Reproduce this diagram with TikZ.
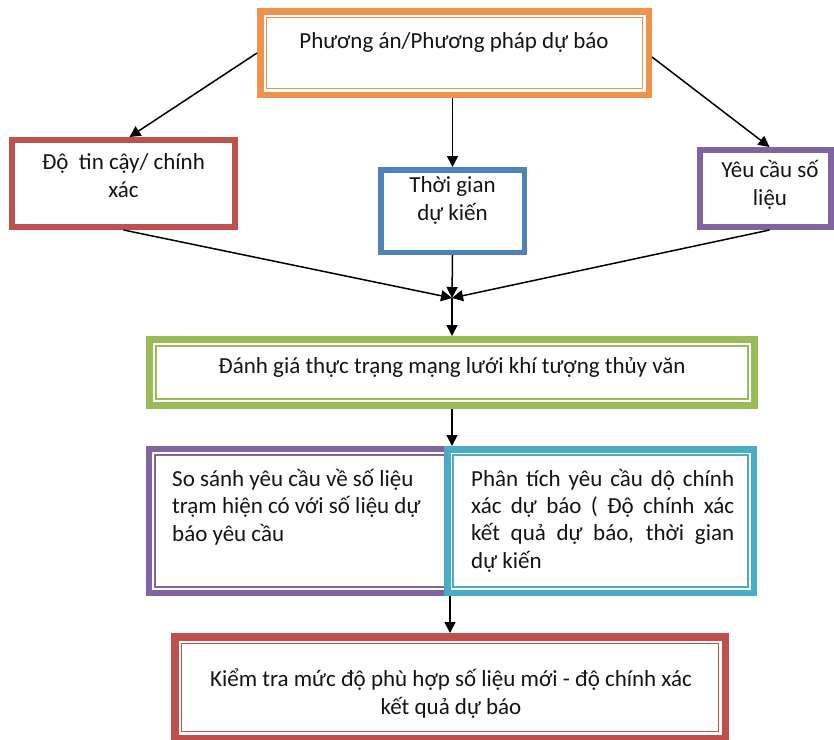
\documentclass[tikz,border=0pt]{standalone}
\usepackage{fontspec}
\setmainfont{Carlito}
\usetikzlibrary{arrows.meta}
\definecolor{cOrange}{HTML}{F0924C}
\definecolor{cRed}{HTML}{C0504D}
\definecolor{cBlue}{HTML}{4F81BD}
\definecolor{cPurple}{HTML}{8064A2}
\definecolor{cGreen}{HTML}{9BBB59}
\definecolor{cTeal}{HTML}{4BACC6}
\begin{document}
\begin{tikzpicture}[x=1pt,y=-1pt,
  box/.style={draw, fill=white, inner sep=0pt, line join=miter},
  inner/.style={line width=1.7pt},
  txt/.style={font=\fontsize{23}{27.3}\selectfont, inner sep=0pt, text=black!92},
  arr/.style={line width=1.5pt, -{Triangle[length=11pt,width=11pt]}},
  ]
\useasboundingbox (0,0) rectangle (834,739);

% boxes
\node[box, draw=cOrange, line width=6.5pt, minimum width=388.5pt, minimum height=83.5pt] (top) at (454.5,53) {};
\draw[inner, cOrange] ([shift={(9.5,9.5)}]top.north west) rectangle ([shift={(-9.5,-9.5)}]top.south east);

\node[box, draw=cRed, line width=6pt, minimum width=223pt, minimum height=87pt] (red) at (123.5,183.5) {};
\node[box, draw=cBlue, line width=5.5pt, minimum width=143.5pt, minimum height=82.5pt] (blue) at (452.5,211) {};
\node[box, draw=cPurple, line width=6pt, minimum width=131pt, minimum height=77pt] (pone) at (765.5,188.5) {};

\node[box, draw=cGreen, line width=7pt, minimum width=605pt, minimum height=66pt] (green) at (452,372.5) {};
\draw[inner, cGreen] ([shift={(9.8,9.8)}]green.north west) rectangle ([shift={(-9.8,-9.8)}]green.south east);

\node[box, draw=cPurple, line width=6pt, minimum width=318pt, minimum height=144pt] (ptwo) at (308,521) {};
\draw[inner, cPurple] ([shift={(9,9)}]ptwo.north west) rectangle ([shift={(-9,-9)}]ptwo.south east);

\node[box, draw=cTeal, line width=6.5pt, minimum width=306.5pt, minimum height=143.5pt] (teal) at (600.5,521) {};
\draw[inner, cTeal] ([shift={(9.3,9.3)}]teal.north west) rectangle ([shift={(-9.3,-9.3)}]teal.south east);

\node[box, draw=cRed, line width=7.5pt, minimum width=550.5pt, minimum height=101.5pt] (bot) at (450,687.5) {};
\draw[inner, cRed] ([shift={(10.5,10.5)}]bot.north west) rectangle ([shift={(-10.5,-10.5)}]bot.south east);

% texts (base anchor = baseline of the last line)
\node[txt, anchor=base] (ttop) at (454,48) {Phương án/Phương pháp dự báo};
\node[txt, anchor=base, align=center] (tred) at (123.5,197) {Độ\ \ tin cậy/ chính\\xác};
\node[txt, anchor=base, align=center] (tblue) at (452.5,220) {Thời gian\\dự kiến};
\node[txt, anchor=base, align=center] (tpone) at (770,205) {Yêu cầu số\\liệu};
\node[txt, anchor=base] (tgreen) at (452,373) {Đánh giá thực trạng mạng lưới khí tượng thủy văn};
\node[txt, anchor=base west, align=left] (tptwo) at (172,541) {So sánh yêu cầu về số liệu\\trạm hiện có với số liệu dự\\báo yêu cầu};
\node[txt, anchor=base west, align=left] (tteal) at (471,568) {\makebox[263pt][s]{Phân tích yêu cầu dộ chính}\\\makebox[263pt][s]{xác dự báo ( Độ chính xác}\\\makebox[263pt][s]{kết quả dự báo, thời gian}\\dự kiến};
\node[txt, anchor=base, align=center] (tbot) at (451,714) {Kiểm tra mức độ phù hợp số liệu mới - độ chính xác\\kết quả dự báo};

% connectors
\coordinate (J) at (452,298);
\draw[arr] (top.west) -- ([xshift=6pt]red.north);
\draw[arr] (blue.north |- top.south) -- (blue.north);
\draw[arr] ([yshift=-4pt]top.east) -- ([xshift=4pt]pone.north);
\draw[arr] (red.south) -- (J);
\draw[arr] (blue.south) -- (J);
\draw[arr] ([xshift=4pt]pone.south) -- (J);
\draw[arr] (J) -- (green.north);
\draw[arr] (green.south) -- (green.south |- teal.north);
\draw[arr] (bot.north |- teal.south) -- (bot.north);
\end{tikzpicture}
\end{document}
